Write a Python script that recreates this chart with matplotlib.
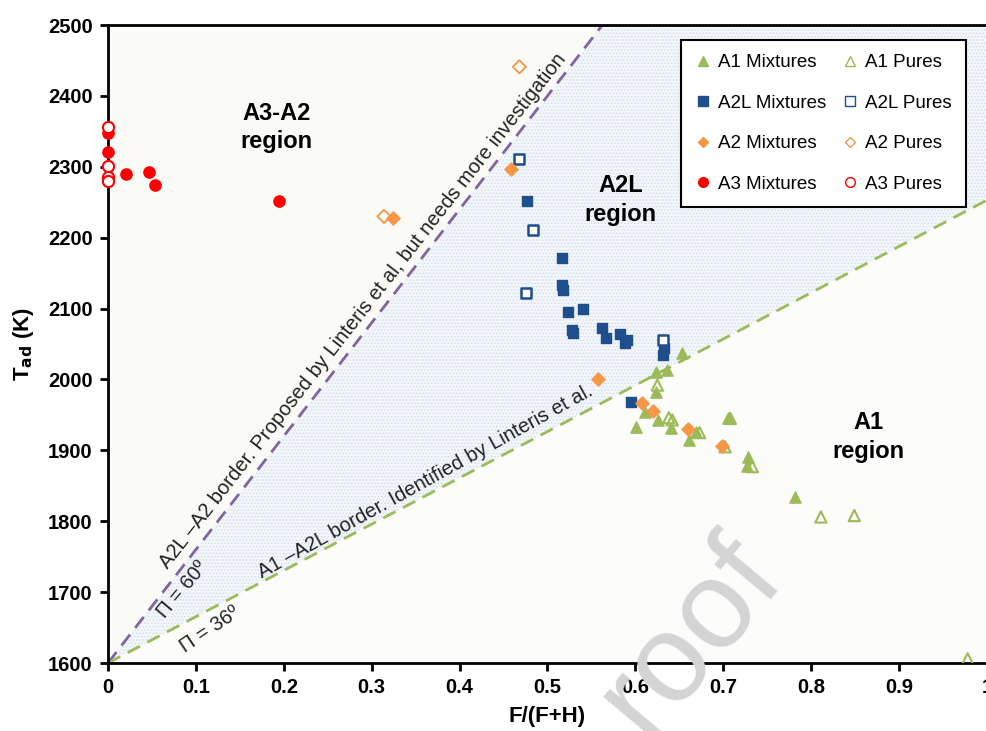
import numpy as np
import matplotlib.pyplot as plt
from matplotlib.lines import Line2D

plt.rcParams['font.family'] = ['Liberation Sans', 'DejaVu Sans']
plt.rcParams['hatch.linewidth'] = 0.6

# A1
a1_mix_x = [0.653, 0.636, 0.623, 0.623, 0.611, 0.601, 0.626, 0.641, 0.661, 0.669, 0.705, 0.728, 0.727, 0.782]
a1_mix_y = [2037, 2013, 2010, 1982, 1954, 1933, 1943, 1932, 1915, 1926, 1946, 1891, 1878, 1834]
a1_pure_x = [0.625, 0.638, 0.642, 0.673, 0.708, 0.702, 0.733, 0.811, 0.849, 0.978]
a1_pure_y = [1992, 1946, 1943, 1925, 1945, 1905, 1877, 1806, 1808, 1606]

# A2L
a2l_mix_x = [0.477, 0.516, 0.517, 0.518, 0.523, 0.540, 0.528, 0.529, 0.562, 0.566, 0.583, 0.590, 0.588, 0.633, 0.631, 0.595]
a2l_mix_y = [2252, 2171, 2133, 2126, 2095, 2099, 2070, 2066, 2073, 2059, 2064, 2056, 2051, 2044, 2035, 1968]
a2l_pure_x = [0.468, 0.483, 0.476, 0.631]
a2l_pure_y = [2311, 2211, 2122, 2056]

# A2
a2_mix_x = [0.324, 0.458, 0.557, 0.607, 0.620, 0.660, 0.698]
a2_mix_y = [2228, 2297, 2000, 1967, 1956, 1930, 1906]
a2_pure_x = [0.468, 0.314]
a2_pure_y = [2441, 2230]

# A3
a3_mix_x = [0.0, 0.0, 0.0205, 0.047, 0.053, 0.195]
a3_mix_y = [2348, 2321, 2290, 2293, 2274, 2252]
a3_pure_x = [0.0, 0.0, 0.0, 0.0]
a3_pure_y = [2356, 2301, 2286, 2280]

# borders, T = 1600 + k * F/(F+H)
k_a2 = 1600
k_a1 = 653

green = '#9bbb59'
blue = '#1f4e8c'
orange = '#f79646'
red = '#ff0000'
purple = '#8064a2'

fig = plt.figure(figsize=(9.87, 7.31), dpi=100)
ax = fig.add_axes([0.1094, 0.093, 0.8906, 0.8728])

xs = np.linspace(0, 1, 200)
top = np.full_like(xs, 2500)
lo = 1600 + k_a1 * xs
hi = np.minimum(1600 + k_a2 * xs, 2500)
ax.fill_between(xs, 1600, lo, facecolor='#fcfcfa', zorder=0, lw=0)
ax.fill_between(xs, lo, hi, facecolor='#f3f6fa', hatch='.....', edgecolor='#d3dceb', zorder=0, lw=0)
ax.fill_between(xs, hi, top, facecolor='#fafaf7', zorder=0, lw=0)

ax.plot(xs, 1600 + k_a2 * xs, ls=(0, (5, 3)), color=purple, lw=2, zorder=1)
ax.plot(xs, 1600 + k_a1 * xs, ls=(0, (5, 3)), color=green, lw=2, zorder=1)

ax.scatter(a1_mix_x, a1_mix_y, marker='^', s=65, color=green, zorder=3)
ax.scatter(a1_pure_x, a1_pure_y, marker='^', s=65, facecolor='none', edgecolor=green, lw=1.5, zorder=3)
ax.scatter(a2l_mix_x, a2l_mix_y, marker='s', s=60, color=blue, zorder=3)
ax.scatter(a2l_pure_x, a2l_pure_y, marker='s', s=60, facecolor='white', edgecolor=blue, lw=1.8, zorder=3)
ax.scatter(a2_mix_x, a2_mix_y, marker='D', s=45, color=orange, zorder=4)
ax.scatter(a2_pure_x, a2_pure_y, marker='D', s=45, facecolor='none', edgecolor=orange, lw=1.3, zorder=4)
ax.scatter(a3_mix_x, a3_mix_y, marker='o', s=65, color=red, zorder=3, clip_on=False)
ax.scatter(a3_pure_x, a3_pure_y, marker='o', s=65, facecolor='white', edgecolor=red, lw=1.5, zorder=4, clip_on=False)

ax.set_xlim(0, 1)
ax.set_ylim(1600, 2500)
ax.set_xticks(np.arange(0, 1.01, 0.1))
ax.set_xticklabels(['0', '0.1', '0.2', '0.3', '0.4', '0.5', '0.6', '0.7', '0.8', '0.9', '1'])
ax.set_yticks(np.arange(1600, 2501, 100))
ax.tick_params(direction='out', length=6, width=2, pad=5, labelsize=14.5)
for lab in ax.get_xticklabels() + ax.get_yticklabels():
    lab.set_fontweight('bold')
for sp in ax.spines.values():
    sp.set_linewidth(2)

ax.set_xlabel('F/(F+H)', fontsize=16, fontweight='bold')
ax.xaxis.set_label_coords(0.5, -0.068)
ax.set_ylabel('T$_{\\mathbf{ad}}$ (K)', fontsize=16, fontweight='bold')
ax.yaxis.set_label_coords(-0.082, 0.5)

ax.text(0.192, 2355, 'A3-A2\nregion', fontsize=17, fontweight='bold', ha='center', va='center', linespacing=1.3)
ax.text(0.583, 2253, 'A2L\nregion', fontsize=17, fontweight='bold', ha='center', va='center', linespacing=1.3)
ax.text(0.865, 1919, 'A1\nregion', fontsize=17, fontweight='bold', ha='center', va='center', linespacing=1.3)

tk = dict(fontsize=14.5, rotation_mode='anchor', ha='left', va='bottom', color='#222222')
ax.text(0.072, 1728, 'A2L \u2013A2 border. Proposed by Linteris et al, but needs more investigation',
        rotation=52, **tk)
ax.text(0.068, 1659, '\u03a0 = 60\u00ba', rotation=50, **tk)
ax.text(0.177, 1714, 'A1 \u2013A2L border. Identified by Linteris et al.', rotation=29, **tk)
ax.text(0.090, 1609, '\u03a0 = 36\u00ba', rotation=34, **tk)

handles = [
    Line2D([], [], ls='none', marker='^', ms=7, color=green),
    Line2D([], [], ls='none', marker='s', ms=7, color=blue),
    Line2D([], [], ls='none', marker='D', ms=5, color=orange),
    Line2D([], [], ls='none', marker='o', ms=7, color=red),
    Line2D([], [], ls='none', marker='^', ms=7, mfc='none', mec=green),
    Line2D([], [], ls='none', marker='s', ms=7, mfc='none', mec=blue),
    Line2D([], [], ls='none', marker='D', ms=5, mfc='none', mec=orange),
    Line2D([], [], ls='none', marker='o', ms=7, mfc='none', mec=red),
]
labels = ['A1 Mixtures', 'A2L Mixtures', 'A2 Mixtures', 'A3 Mixtures',
          'A1 Pures', 'A2L Pures', 'A2 Pures', 'A3 Pures']
leg = ax.legend(handles, labels, ncol=2, loc='upper right', bbox_to_anchor=(0.976, 0.9765),
                borderaxespad=0, fontsize=13.5, frameon=True, fancybox=False, edgecolor='black',
                framealpha=1, handlelength=0.8, handletextpad=0.4, columnspacing=0.9,
                labelspacing=1.25, borderpad=0.75)
leg.get_frame().set_linewidth(1.5)

fig.text(0.70, 0.13, 'roof', fontsize=90, color='#d4d4d4', rotation=50, ha='center', va='center',
         zorder=10)

fig.savefig('out.png', dpi=100)
